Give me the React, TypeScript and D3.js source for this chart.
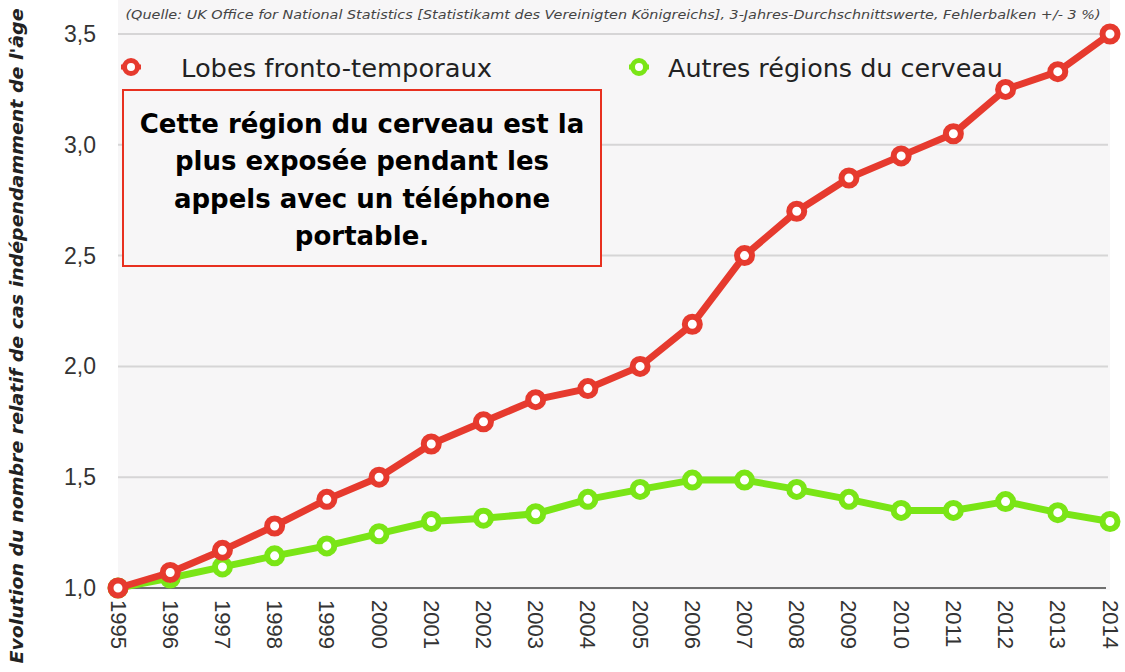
import React from "react";
import * as d3 from "d3";

const years = [1995,1996,1997,1998,1999,2000,2001,2002,2003,2004,2005,2006,2007,2008,2009,2010,2011,2012,2013,2014];
const frontoTemporal = [1.0,1.07,1.17,1.28,1.40,1.50,1.65,1.75,1.85,1.90,2.00,2.19,2.50,2.70,2.85,2.95,3.05,3.25,3.33,3.50];
const otherRegions = [1.0,1.045,1.095,1.145,1.19,1.245,1.30,1.315,1.335,1.40,1.445,1.487,1.487,1.445,1.40,1.35,1.35,1.39,1.34,1.30];
const yTicks = [1.0,1.5,2.0,2.5,3.0,3.5];
const seriesNames = ["Lobes fronto-temporaux", "Autres régions du cerveau"];
const sourceText = "(Quelle: UK Office for National Statistics [Statistikamt des Vereinigten Königreichs], 3-Jahres-Durchschnittswerte, Fehlerbalken +/- 3 %)";
const yTitle = "Evolution du nombre relatif de cas indépendamment de l'âge";
const noteLines = ["Cette région du cerveau est la", "plus exposée pendant les", "appels avec un téléphone", "portable."];

const RED = "#e63a2e";
const GREEN = "#7ae516";

export default function App() {
  const W = 1125, H = 672;
  const x = d3.scaleLinear().domain([1995, 2014]).range([118, 1110]);
  const y = d3.scaleLinear().domain([1, 3.5]).range([588, 34]);
  const line = d3.line<number>().x((_, i) => x(years[i])).y(d => y(d));
  const fmt = (v: number) => d3.format(".1f")(v).replace(".", ",");

  const series = [
    { vals: otherRegions, color: GREEN },
    { vals: frontoTemporal, color: RED },
  ];

  return (
    <svg width={W} height={H} style={{ position: "absolute", left: 0, top: 0, background: "#ffffff" }}>
      <rect x={118} y={0} width={992} height={590} fill="#f7f6f7" />
      {yTicks.slice(1).map(t => (
        <line key={t} x1={118} x2={1108} y1={y(t)} y2={y(t)} stroke="#d6d5d6" strokeWidth={2} />
      ))}
      <line x1={118} x2={1106} y1={y(1)} y2={y(1)} stroke="#6f6f6f" strokeWidth={2} />
      {yTicks.map(t => (
        <text key={t} x={96} y={y(t)} textAnchor="end" dominantBaseline="central"
          fontFamily="Liberation Sans, Arial, sans-serif" fontSize={23} fill="#333">{fmt(t)}</text>
      ))}
      {years.map(yr => (
        <text key={yr} transform={`translate(${x(yr)},${600}) rotate(90)`} textAnchor="start" dominantBaseline="central"
          fontFamily="Liberation Sans, Arial, sans-serif" fontSize={22} fill="#333">{yr}</text>
      ))}
      <text x={613} y={19} textAnchor="middle" fontFamily="DejaVu Sans, sans-serif" fontStyle="italic" fontSize={12.5}
        fill="#444" textLength={975} lengthAdjust="spacingAndGlyphs">{sourceText}</text>
      <text transform={`translate(23,336) rotate(-90)`} textAnchor="middle" fontFamily="DejaVu Sans, sans-serif"
        fontStyle="italic" fontWeight="bold" fontSize={18.5} fill="#222" textLength={655} lengthAdjust="spacingAndGlyphs">{yTitle}</text>

      {series.map((s, si) => (
        <g key={si}>
          <path d={line(s.vals) || ""} fill="none" stroke={s.color} strokeWidth={7} strokeLinejoin="round" />
          {s.vals.map((v, i) => (
            <circle key={i} cx={x(years[i])} cy={y(v)} r={7.5} fill="#fff" stroke={s.color} strokeWidth={6} />
          ))}
        </g>
      ))}

      {/* legend */}
      <g>
        <line x1={121} x2={141} y1={67} y2={67} stroke={RED} strokeWidth={5} />
        <circle cx={131} cy={67} r={6.5} fill="#fff" stroke={RED} strokeWidth={5} />
        <text x={181} y={77} fontFamily="DejaVu Sans, sans-serif" fontSize={24} fill="#222"
          textLength={311} lengthAdjust="spacingAndGlyphs">{seriesNames[0]}</text>
        <line x1={629} x2={649} y1={67} y2={67} stroke={GREEN} strokeWidth={5} />
        <circle cx={639} cy={67} r={6.5} fill="#fff" stroke={GREEN} strokeWidth={5} />
        <text x={668} y={77} fontFamily="DejaVu Sans, sans-serif" fontSize={24} fill="#222"
          textLength={335} lengthAdjust="spacingAndGlyphs">{seriesNames[1]}</text>
      </g>

      {/* note box */}
      <rect x={123} y={90} width={478} height={176} fill="#f7f6f7" stroke="#e8301f" strokeWidth={2} />
      {noteLines.map((l, i) => (
        <text key={i} x={362} y={133 + i * 37.3} textAnchor="middle" fontFamily="DejaVu Sans, sans-serif"
          fontWeight="bold" fontSize={26} fill="#000">{l}</text>
      ))}
    </svg>
  );
}
